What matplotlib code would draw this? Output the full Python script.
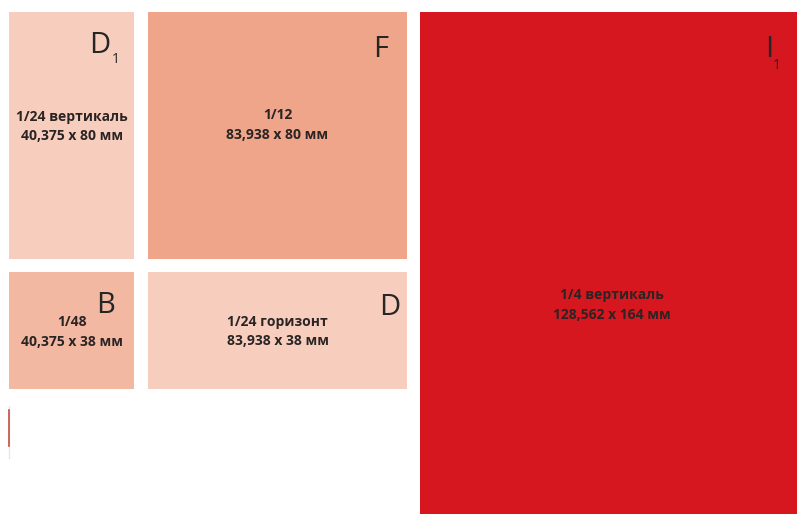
import matplotlib
matplotlib.use("Agg")
import matplotlib.pyplot as plt
from matplotlib.patches import Rectangle

# ad module sizes, mm (width x height)
labels = ["D", "F", "I", "B", "D"]
subs = ["1", "", "1", "", ""]
names = ["1/24 вертикаль", "1/12", "1/4 вертикаль", "1/48", "1/24 горизонт"]
widths = [40.375, 83.938, 128.562, 40.375, 83.938]
heights = [80, 80, 164, 38, 38]
size_txt = ["40,375 x 80 мм", "83,938 x 80 мм", "128,562 x 164 мм",
            "40,375 x 38 мм", "83,938 x 38 мм"]

# layout on the sheet (mm)
x0 = [0, 45.0, 133.1, 0, 45.0]
y0 = [0, 0, 0, 84.2, 84.2]
colors = ["#F7CEBE", "#EFA589", "#D6171F", "#F3B8A2", "#F7CEBE"]

W, H = 797, 514
px_per_mm = 3.0875
fig = plt.figure(figsize=(W / 100, H / 100), dpi=100)
ax = fig.add_axes([0, 0, 1, 1])
ax.set_xlim(-9 / px_per_mm, (W - 9) / px_per_mm)
ax.set_ylim((H - 12) / px_per_mm, -12 / px_per_mm)
ax.axis("off")

txt_col = "#2B2424"
for i in range(len(widths)):
    ax.add_patch(Rectangle((x0[i], y0[i]), widths[i], heights[i],
                           facecolor=colors[i], edgecolor="none"))

# baselines of the two text lines, mm from top of each box
base1 = [35.3, 34.6, 93.1, 17.5, 17.5]
base2 = [41.5, 41.2, 99.5, 24.1, 23.8]
text_dx = [0.2, 0, -2.2, 0.2, 0]
for i in range(len(widths)):
    cx = x0[i] + widths[i] / 2 + text_dx[i]
    ax.text(cx, y0[i] + base1[i], names[i], ha="center", va="baseline",
            fontsize=10, fontweight="bold", family="Open Sans", color=txt_col)
    ax.text(cx, y0[i] + base2[i], size_txt[i], ha="center", va="baseline",
            fontsize=10, fontweight="bold", family="Open Sans", color=txt_col)

# corner letters
letter_xy = [(26.0, 13.3), (117.9, 14.6), (245.0, 14.6), (28.2, 97.5), (119.8, 98.2)]
sub_dx = [7.2, 0, 2.5, 0, 0]
sub_dy = [3.3, 0, 4.0, 0, 0]
for i in range(len(widths)):
    lx, ly = letter_xy[i]
    ax.text(lx, ly, labels[i], ha="left", va="baseline", fontsize=21,
            family="Open Sans", color="#262626")
    if subs[i]:
        ax.text(lx + sub_dx[i], ly + sub_dy[i], subs[i], ha="left",
                va="baseline", fontsize=10, family="Open Sans",
                color="#262626")

# small marker line at the bottom left
ax.plot([0, 0], [127.5, 144.5], color="#DCE9F2", lw=1)
ax.plot([0, 0], [128.9, 140.6], color="#C0533F", lw=1.2)

fig.savefig("out.png", dpi=100)
